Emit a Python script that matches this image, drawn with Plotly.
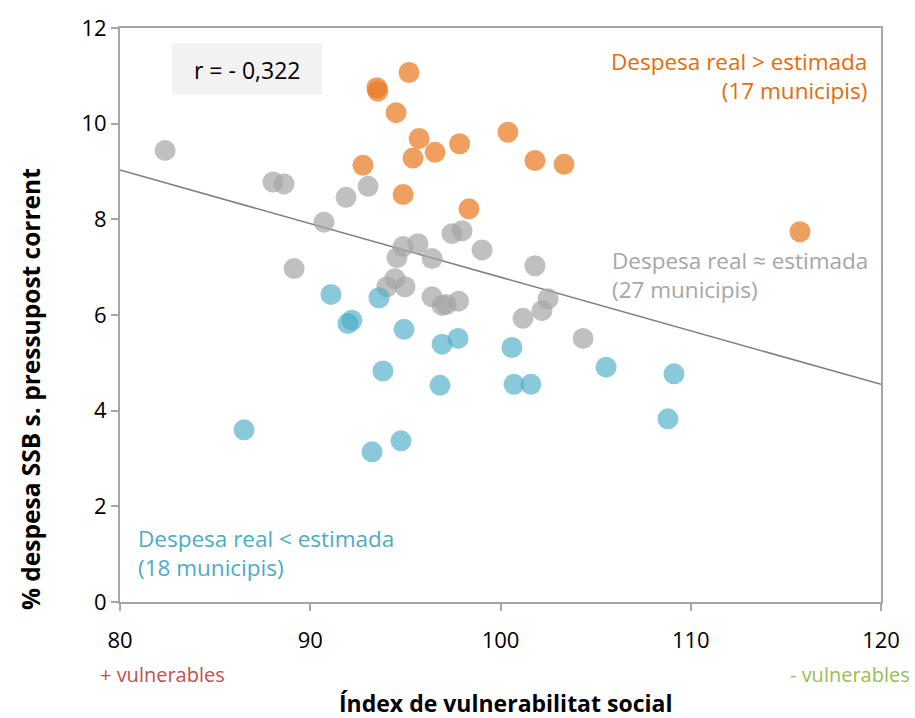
import plotly.graph_objects as go

# Orange: real spending > estimated
orange_x = [93.5, 93.55, 95.19, 94.51, 92.77, 95.72, 95.40, 96.56, 97.85, 100.39, 101.81, 103.34, 94.88, 98.34, 115.74]
orange_y = [10.75, 10.68, 11.07, 10.23, 9.13, 9.69, 9.28, 9.40, 9.58, 9.82, 9.23, 9.15, 8.52, 8.22, 7.74]

# Gray: real spending ~ estimated
gray_x = [82.37, 88.04, 88.62, 91.88, 93.04, 90.72, 89.15, 94.88, 95.66, 94.56, 96.40, 97.45, 97.98, 99.03,
          94.45, 94.03, 94.98, 96.40, 96.93, 97.15, 97.80, 101.81, 102.50, 102.18, 101.18, 104.34]
gray_y = [9.44, 8.78, 8.74, 8.46, 8.69, 7.94, 6.97, 7.43, 7.49, 7.20, 7.18, 7.70, 7.76, 7.36,
          6.76, 6.59, 6.59, 6.38, 6.20, 6.22, 6.29, 7.03, 6.34, 6.09, 5.93, 5.51]

# Blue: real spending < estimated
blue_x = [91.09, 93.61, 91.98, 92.19, 94.93, 96.93, 97.77, 100.60, 93.82, 96.82, 100.71, 101.60, 105.55,
          86.52, 94.77, 93.25, 109.12, 108.80]
blue_y = [6.43, 6.36, 5.82, 5.89, 5.70, 5.39, 5.51, 5.32, 4.83, 4.53, 4.55, 4.55, 4.91,
          3.60, 3.37, 3.14, 4.77, 3.83]

# Regression line endpoints
trend_x = [80, 120]
trend_y = [9.03, 4.55]

x_ticks = [80, 90, 100, 110, 120]
y_ticks = [0, 2, 4, 6, 8, 10, 12]

FONT = "Open Sans"

fig = go.Figure()
fig.add_trace(go.Scatter(x=trend_x, y=trend_y, mode="lines",
                         line=dict(color="#7F7F7F", width=1.5), hoverinfo="skip"))
fig.add_trace(go.Scatter(x=gray_x, y=gray_y, mode="markers",
                         marker=dict(size=21, color="rgba(165,165,165,0.7)", line=dict(width=0))))
fig.add_trace(go.Scatter(x=blue_x, y=blue_y, mode="markers",
                         marker=dict(size=21, color="rgba(75,172,198,0.65)", line=dict(width=0))))
fig.add_trace(go.Scatter(x=orange_x, y=orange_y, mode="markers",
                         marker=dict(size=21, color="rgba(232,120,30,0.7)", line=dict(width=0))))

fig.update_layout(
    width=915, height=718,
    margin=dict(l=120, r=34, t=25, b=116),
    paper_bgcolor="white", plot_bgcolor="white",
    showlegend=False,
    font=dict(family=FONT, size=22, color="black"),
    xaxis=dict(range=[80, 120], tickvals=x_ticks, ticks="outside", ticklen=7,
               tickcolor="#A6A6A6", tickwidth=2, showgrid=False, zeroline=False,
               showline=True, linecolor="#A6A6A6", linewidth=2, mirror=True,
               ticklabelstandoff=11,
               tickfont=dict(size=22, family=FONT)),
    yaxis=dict(range=[0, 12], tickvals=y_ticks, ticks="outside", ticklen=7,
               tickcolor="#A6A6A6", tickwidth=2, showgrid=False, zeroline=False,
               showline=True, linecolor="#A6A6A6", linewidth=2, mirror=True,
               tickfont=dict(size=22, family=FONT)),
)

fig.add_shape(type="rect", xref="paper", yref="paper",
              x0=(172-120)/761, x1=(322-120)/761, y0=(602-92)/577, y1=(602-40)/577,
              fillcolor="#F2F2F2", line=dict(width=0), layer="below")

ann = []
ann.append(dict(x=(247-120)/761, y=(602-67)/577, xref="paper", yref="paper",
                text="r = - 0,322", showarrow=False, font=dict(size=23, color="black", family=FONT),
                xanchor="center", yanchor="middle"))
ann.append(dict(x=(869-120)/761, y=(602-73)/577, xref="paper", yref="paper",
                text="Despesa real > estimada<br>(17 municipis)", showarrow=False, align="right",
                font=dict(size=22.5, color="#E46C0A", family=FONT), xanchor="right", yanchor="middle"))
ann.append(dict(x=(610-120)/761, y=(602-273)/577, xref="paper", yref="paper",
                text="Despesa real ≈ estimada<br>(27 municipis)", showarrow=False, align="left",
                font=dict(size=22.5, color="#A6A6A6", family=FONT), xanchor="left", yanchor="middle"))
ann.append(dict(x=(136-120)/761, y=(602-553)/577, xref="paper", yref="paper",
                text="Despesa real < estimada<br>(18 municipis)", showarrow=False, align="left",
                font=dict(size=22.5, color="#4BACC6", family=FONT), xanchor="left", yanchor="middle"))
ann.append(dict(x=(162-120)/761, y=(602-675)/577, xref="paper", yref="paper",
                text="+ vulnerables", showarrow=False,
                font=dict(size=20, color="#C0504D", family=FONT), xanchor="center", yanchor="middle"))
ann.append(dict(x=(912-120)/761, y=(602-675)/577, xref="paper", yref="paper",
                text="- vulnerables", showarrow=False,
                font=dict(size=20, color="#9BBB59", family=FONT), xanchor="right", yanchor="middle"))
ann.append(dict(x=(505-120)/761, y=(602-704)/577, xref="paper", yref="paper",
                text="<b>Índex de vulnerabilitat social</b>", showarrow=False,
                font=dict(size=23, color="black", family=FONT), xanchor="center", yanchor="middle"))
ann.append(dict(x=(30-120)/761, y=(602-388)/577, xref="paper", yref="paper",
                text="<b>% despesa SSB s. pressupost corrent</b>", showarrow=False, textangle=-90,
                font=dict(size=24.5, color="black", family=FONT), xanchor="center", yanchor="middle"))
fig.update_layout(annotations=ann)

fig.write_html("out.html", config={"displayModeBar": False},
               post_script="document.body.style.margin='0';")
